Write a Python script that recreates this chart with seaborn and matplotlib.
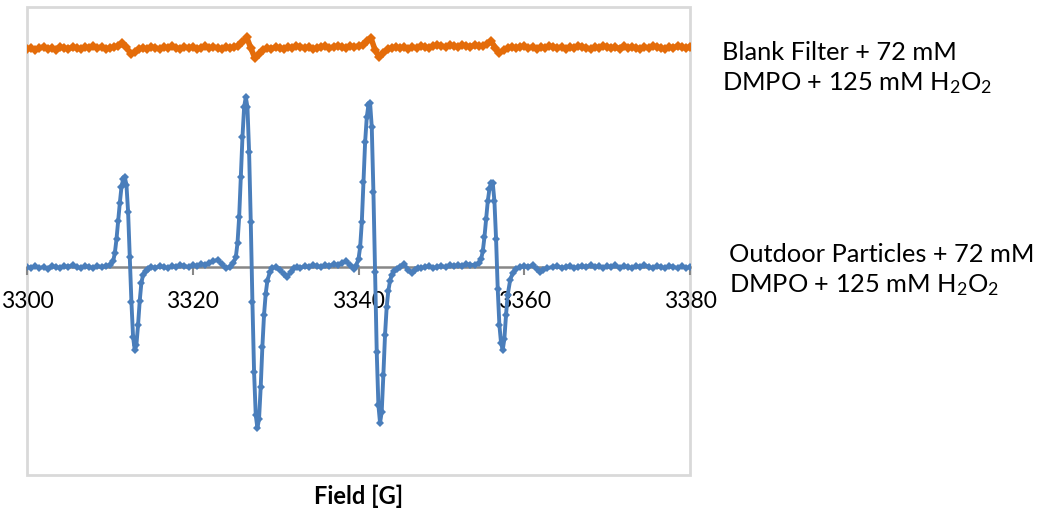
import numpy as np
import pandas as pd
import matplotlib
matplotlib.use("Agg")
import matplotlib.pyplot as plt
import seaborn as sns

#----------------------------------
# Style
#----------------------------------
sns.set_theme(style="white")
plt.rcParams['font.family'] = ['Lato', 'DejaVu Sans']
plt.rcParams['mathtext.default'] = 'regular'
plt.rcParams['text.color'] = 'black'
plt.rcParams['axes.labelcolor'] = 'black'
plt.rcParams['xtick.labelcolor'] = 'black'

#----------------------------------
# Data
#----------------------------------
# Blank filter trace, sampled every 0.5 G from 3300 to 3380 G
blank_signal = [
    218, 219, 217, 219, 220, 218, 219, 217, 220, 219,
    218, 220, 219, 218, 220, 219, 221, 219, 220, 218,
    219, 220, 221, 224, 220, 213, 215, 218, 219, 218,
    220, 219, 218, 220, 219, 221, 219, 218, 220, 219,
    220, 218, 219, 221, 219, 220, 219, 218, 220, 219,
    220, 221, 225, 230, 219, 209, 213, 217, 219, 218,
    220, 219, 218, 220, 219, 221, 220, 219, 220, 218,
    219, 220, 221, 219, 220, 221, 220, 219, 221, 220,
    221, 222, 226, 229, 217, 210, 214, 218, 219, 220,
    219, 220, 218, 220, 219, 221, 220, 219, 221, 222,
    221, 220, 222, 221, 220, 222, 221, 220, 222, 221,
    221, 223, 226, 219, 214, 217, 219, 220, 219, 220,
    221, 219, 220, 218, 220, 219, 221, 220, 219, 220,
    218, 220, 219, 221, 220, 219, 218, 220, 219, 221,
    220, 219, 220, 218, 221, 219, 220, 219, 218, 220,
    219, 221, 220, 219, 218, 220, 219, 221, 220, 219,
    220,
]
blank_field = np.linspace(3300, 3380, len(blank_signal))

# Outdoor particles trace (DMPO-OH quartet)
outdoor_field = [
    3300.0, 3300.5, 3301.0, 3301.5, 3302.0, 3302.5, 3303.0, 3303.5, 3304.0, 3304.5,
    3305.0, 3305.5, 3306.0, 3306.5, 3307.0, 3307.5, 3308.0, 3308.5, 3309.0, 3309.5,
    3310.0, 3310.4, 3310.6, 3310.8, 3311.0, 3311.2, 3311.4, 3311.6, 3311.8, 3312.0,
    3312.2, 3312.4, 3312.6, 3312.8, 3313.0, 3313.2, 3313.4, 3313.6, 3313.8, 3314.0,
    3314.3, 3314.6, 3315.0, 3315.5, 3316.0, 3316.5, 3317.0, 3317.5, 3318.0, 3318.5,
    3319.0, 3319.5, 3320.0, 3320.5, 3321.0, 3321.5, 3322.0, 3322.5, 3323.0, 3323.5,
    3324.0, 3324.5, 3324.9, 3325.2, 3325.4, 3325.6, 3325.8, 3326.0, 3326.2, 3326.4,
    3326.6, 3326.8, 3327.0, 3327.2, 3327.4, 3327.6, 3327.8, 3328.0, 3328.2, 3328.4,
    3328.6, 3328.8, 3329.0, 3329.3, 3329.6, 3330.0, 3330.5, 3331.0, 3331.4, 3331.8,
    3332.2, 3332.6, 3333.0, 3333.5, 3334.0, 3334.5, 3335.0, 3335.5, 3336.0, 3336.5,
    3337.0, 3337.5, 3338.0, 3338.5, 3339.0, 3339.4, 3339.7, 3340.0, 3340.2, 3340.4,
    3340.6, 3340.8, 3341.0, 3341.2, 3341.4, 3341.6, 3341.8, 3342.0, 3342.2, 3342.4,
    3342.6, 3342.8, 3343.0, 3343.2, 3343.4, 3343.6, 3343.8, 3344.0, 3344.3, 3344.6,
    3345.0, 3345.5, 3346.0, 3346.4, 3346.8, 3347.2, 3347.6, 3348.0, 3348.5, 3349.0,
    3349.5, 3350.0, 3350.5, 3351.0, 3351.5, 3352.0, 3352.5, 3353.0, 3353.5, 3354.0,
    3354.5, 3354.8, 3355.0, 3355.2, 3355.4, 3355.6, 3355.8, 3356.0, 3356.2, 3356.4,
    3356.6, 3356.8, 3357.0, 3357.2, 3357.4, 3357.6, 3357.8, 3358.0, 3358.3, 3358.6,
    3359.0, 3359.5, 3360.0, 3360.5, 3361.0, 3361.5, 3361.9, 3362.3, 3362.8, 3363.5,
    3364.0, 3364.5, 3365.0, 3365.5, 3366.0, 3366.5, 3367.0, 3367.5, 3368.0, 3368.5,
    3369.0, 3369.5, 3370.0, 3370.5, 3371.0, 3371.5, 3372.0, 3372.5, 3373.0, 3373.5,
    3374.0, 3374.5, 3375.0, 3375.5, 3376.0, 3376.5, 3377.0, 3377.5, 3378.0, 3378.5,
    3379.0, 3379.5, 3380.0,
]
outdoor_signal = [
    0, -1, 1, -1, 0, -2, 1, 0, -1, 1,
    0, 2, 0, -1, 1, 0, -1, 1, 0, 1,
    2, 6, 14, 28, 46, 64, 80, 88, 90, 82,
    55, 10, -35, -70, -83, -78, -58, -34, -16, -8,
    -4, -2, 0, -1, 1, 0, -1, 1, 0, 2,
    1, 0, 2, 1, 3, 2, 4, 6, 7, 3,
    -1, 0, 4, 10, 24, 50, 90, 130, 160, 170,
    160, 115, 45, -35, -105, -148, -161, -152, -120, -80,
    -48, -27, -14, -5, -1, 0, -3, -7, -10, -5,
    -1, 0, -1, 1, 0, 2, 1, 0, 2, 1,
    3, 2, 4, 6, 2, -2, 1, 8, 20, 45,
    85, 125, 150, 162, 164, 140, 75, -5, -85, -138,
    -156, -145, -108, -68, -40, -24, -14, -8, -4, -2,
    0, 3, -3, -6, -3, -1, -1, 0, 1, -1,
    0, 1, 0, 2, 1, 2, 1, 3, 2, 2,
    4, 8, 16, 30, 48, 66, 78, 84, 84, 66,
    28, -22, -58, -76, -83, -72, -48, -28, -13, -6,
    -2, 0, 1, 0, 2, -2, -5, -3, -1, 0,
    1, -1, 0, 1, -1, 0, 1, 0, 2, 0,
    1, -1, 1, 0, 2, -1, 1, 0, -1, 1,
    0, 2, 0, -1, 1, 0, -1, 1, 0, -1,
    1, -1, 0,
]

field_ticks = [3300, 3320, 3340, 3360, 3380]

blank_label = ["Blank Filter + 72 mM", r"DMPO + 125 mM H$_2$O$_2$"]
outdoor_label = ["Outdoor Particles + 72 mM", r"DMPO + 125 mM H$_2$O$_2$"]

blank_df = pd.DataFrame({'field': blank_field, 'signal': blank_signal})
outdoor_df = pd.DataFrame({'field': outdoor_field, 'signal': outdoor_signal})

#----------------------------------
# Plot
#----------------------------------
fig = plt.figure(figsize=(10.5, 5.13), dpi=100)
ax = fig.add_axes([27 / 1050, 38 / 513, 663 / 1050, 468 / 513])

sns.lineplot(data=blank_df, x='field', y='signal', sort=False, estimator=None,
             color='#e46c0a', linewidth=4, marker='D', markersize=5,
             markeredgewidth=0, ax=ax, zorder=3)
sns.lineplot(data=outdoor_df, x='field', y='signal', sort=False, estimator=None,
             color='#4a7ebb', linewidth=2.8, marker='D', markersize=4.5,
             markeredgewidth=0, ax=ax, zorder=3)

ax.set_xlim(3300, 3380)
ax.set_ylim(-208, 260)

# frame via the axes patch, x axis sits on the zero line
for side in ['left', 'right', 'top']:
    ax.spines[side].set_visible(False)
ax.patch.set_edgecolor('#d9d9d9')
ax.patch.set_linewidth(2)
ax.spines['bottom'].set_position(('data', 0))
ax.spines['bottom'].set_color('#878787')
ax.spines['bottom'].set_linewidth(1.8)
ax.spines['bottom'].set_zorder(1)

ax.set_xticks(field_ticks)
ax.set_xticklabels([str(t) for t in field_ticks])
ax.tick_params(axis='x', direction='out', length=6, width=1.5, color='#878787',
               labelsize=16.5, pad=11, bottom=True)
ax.set_yticks([])
ax.set_ylabel('')

ax.set_xlabel('Field [G]', fontsize=17, fontweight='bold')
ax.xaxis.set_label_coords(0.5, -0.02)

fig.text(722 / 1050, 1 - 60 / 513, blank_label[0], fontsize=18.3, va='baseline')
fig.text(722 / 1050, 1 - 90 / 513, blank_label[1], fontsize=18.3, va='baseline')
fig.text(729 / 1050, 1 - 262 / 513, outdoor_label[0], fontsize=18.3, va='baseline')
fig.text(729 / 1050, 1 - 292 / 513, outdoor_label[1], fontsize=18.3, va='baseline')

fig.savefig('out.png', dpi=100, facecolor='white')
